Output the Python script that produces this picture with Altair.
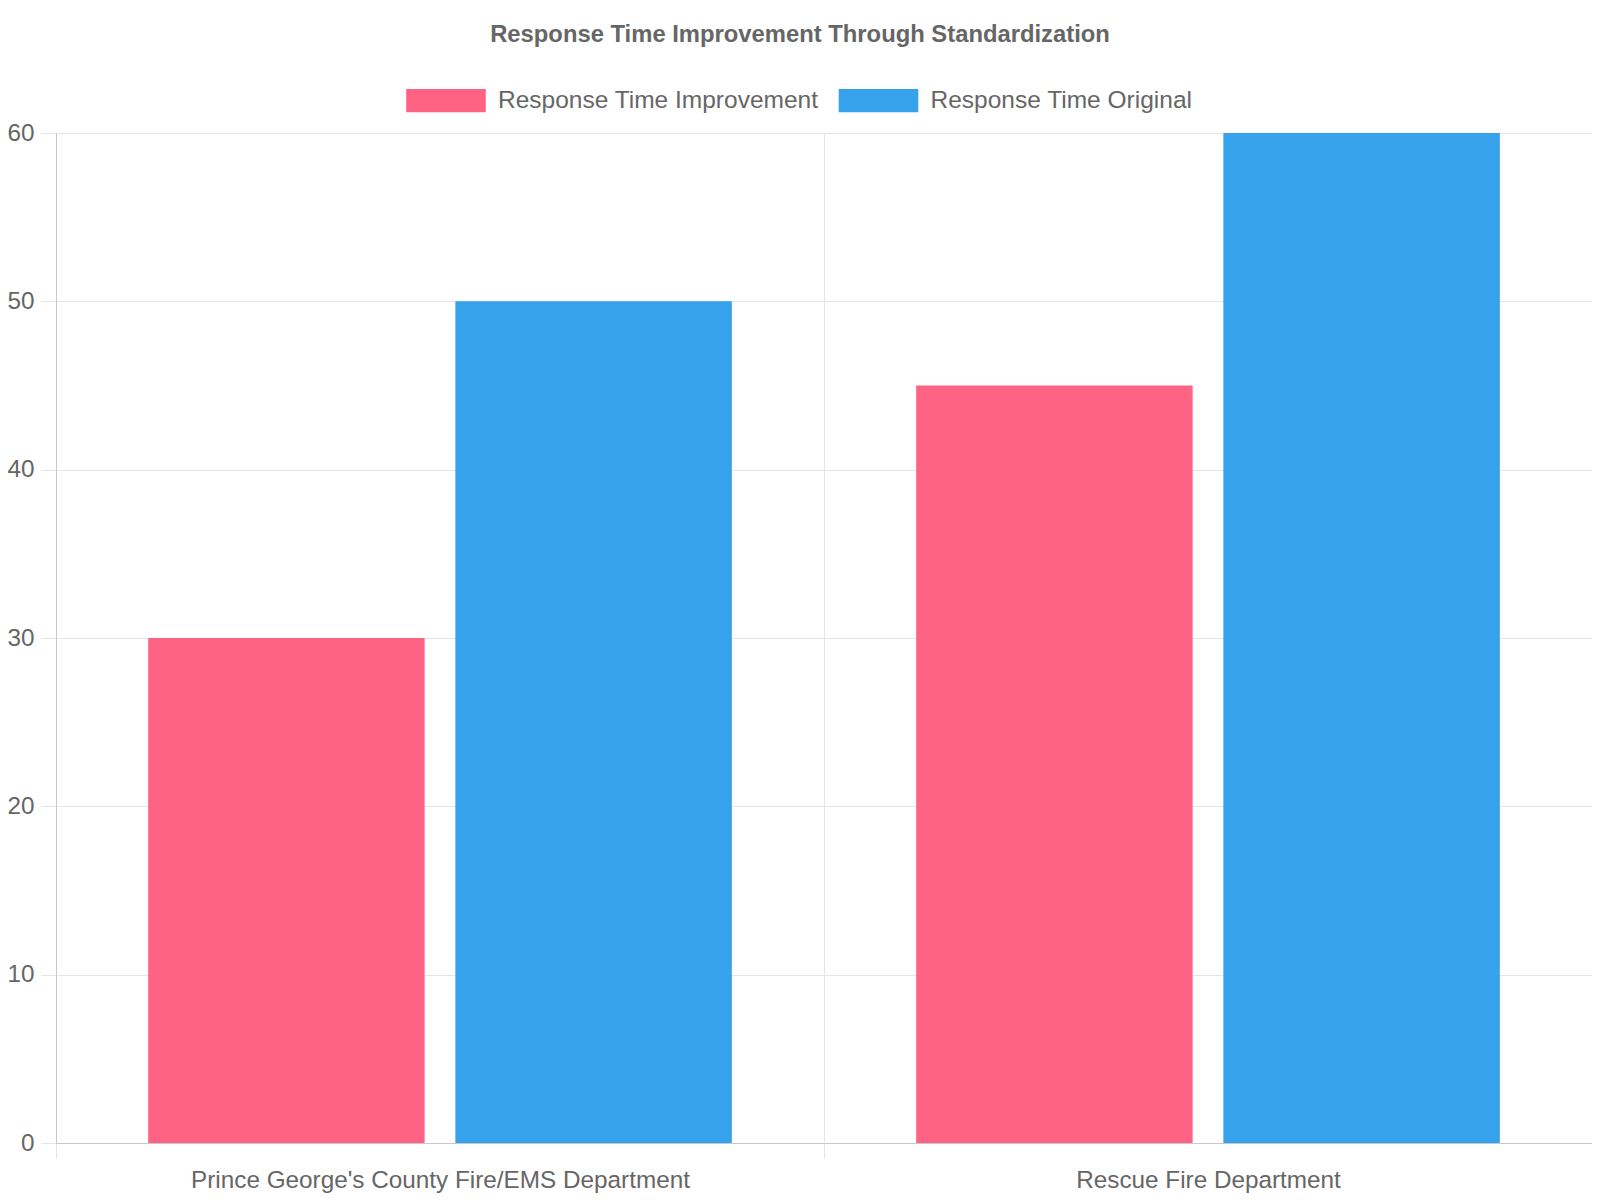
import altair as alt
import pandas as pd

departments = ["Prince George's County Fire/EMS Department", "Rescue Fire Department"]
series = ["Response Time Improvement", "Response Time Original"]
improvement = [30, 45]
original = [50, 60]
colors = ["#FF6384", "#36A2EB"]
y_ticks = [0, 10, 20, 30, 40, 50, 60]

rows = []
for i, d in enumerate(departments):
    rows.append({"dept": d, "series": series[0], "value": improvement[i]})
    rows.append({"dept": d, "series": series[1], "value": original[i]})
df = pd.DataFrame(rows)

FONT = "Liberation Sans"
GRAY = "#666666"

chart = alt.Chart(df).mark_bar().encode(
    x=alt.X("dept:N", sort=departments, title=None,
            scale=alt.Scale(paddingInner=0, paddingOuter=0),
            axis=alt.Axis(tickBand="extent", labelAngle=0, labelFontSize=24.3,
                          labelColor=GRAY, labelFont=FONT, labelPadding=10, labelLimit=0,
                          tickSize=15, tickColor="#e5e5e5", gridColor="#e5e5e5",
                          domainColor="#c8c8c8", grid=True)),
    xOffset=alt.XOffset("series:N", sort=series,
                        scale=alt.Scale(paddingInner=0.1, paddingOuter=0.3)),
    y=alt.Y("value:Q", title=None,
            scale=alt.Scale(domain=[0, 60], nice=False),
            axis=alt.Axis(values=y_ticks, labelFontSize=24.3, labelColor=GRAY,
                          labelFont=FONT, labelPadding=7, tickSize=15,
                          tickColor="#e5e5e5", gridColor="#e5e5e5",
                          domainColor="#c8c8c8", grid=True)),
    color=alt.Color("series:N", sort=series,
                    scale=alt.Scale(domain=series, range=colors),
                    legend=alt.Legend(title=None, orient="none", direction="horizontal",
                                      legendX=350, legendY=-72.5,
                                      symbolType="M-1,-0.295H1V0.295H-1Z",
                                      symbolSize=6336, symbolStrokeWidth=0,
                                      symbolOpacity=1, labelLimit=0,
                                      labelFontSize=24.5, labelColor=GRAY, labelFont=FONT,
                                      labelOffset=12, columnPadding=19.5, padding=0)),
).properties(
    width=1536,
    height=1010,
    title=alt.TitleParams("Response Time Improvement Through Standardization",
                          fontSize=23.8, font=FONT, fontWeight="bold", color=GRAY,
                          anchor="middle", frame="group", dx=-24, offset=13.7),
    autosize=alt.AutoSizeParams(type="none"),
    padding={"left": 48, "top": 125, "right": 0, "bottom": 52},
).configure_view(stroke=None)

chart.save("out.html", embed_options={"renderer": "svg", "actions": False})
